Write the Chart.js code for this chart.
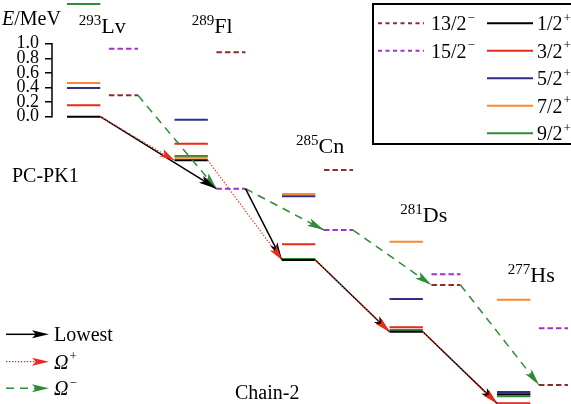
<!DOCTYPE html>
<html>
<head>
<meta charset="utf-8">
<script src="https://cdn.jsdelivr.net/npm/chart.js@4.4.1/dist/chart.umd.min.js"></script>
<style>
  html, body { margin: 0; padding: 0; background: #fff; }
  #wrap { width: 571px; height: 404px; position: relative; overflow: hidden; }
</style>
</head>
<body>
<div id="wrap"><canvas id="levels-chart"></canvas></div>
<script>
// decay chain, left to right
const nuclei = ['Lv', 'Fl', 'Cn', 'Ds', 'Hs'];
const massNumbers = [293, 289, 285, 281, 277];

// states shown in the diagram
const spins = ['1/2', '3/2', '5/2', '7/2', '9/2', '13/2', '15/2'];
const parities = ['+', '+', '+', '+', '+', '-', '-'];

// level energies (MeV) on the common chain scale, one value per nucleus
const level1_2p = [0.000, -0.597, -1.963, -2.945, -3.803];
const level3_2p = [0.156, -0.370, -1.748, -2.885, -3.926];
const level5_2p = [0.393, -0.041, -1.090, -2.497, -3.771];
const level7_2p = [0.462, -0.562, -1.059, -1.712, -2.507];
const level9_2p = [1.544, -0.538, -1.949, -2.922, -3.830];
const level13_2m = [0.293, 0.882, -0.730, -2.305, -3.675];
const level15_2m = [0.932, -0.986, -1.552, -2.159, -2.899];

const yTicks = [0.0, 0.2, 0.4, 0.6, 0.8, 1.0];

const levels = [level1_2p, level3_2p, level5_2p, level7_2p, level9_2p, level13_2m, level15_2m];
const colors = ['#000000', '#e8291c', '#2f2f8a', '#f7892f', '#2e8b37', '#8b2e2e', '#a030d0'];

const FONT = "'Liberation Serif', 'Times New Roman', serif";
const SOLID_W = 0.31, DASH_X0 = 0.39, DASH_X1 = 0.66;

function levelSpan(k, i) {
  return parities[k] === '+' ? [i, i + SOLID_W] : [i + DASH_X0, i + DASH_X1];
}

// lowest allowed state in every nucleus
function lowestPath(allow) {
  return nuclei.map((n, i) => {
    let best = -1;
    levels.forEach((lv, k) => {
      if (allow(k) && (best < 0 || lv[i] < levels[best][i])) best = k;
    });
    return best;
  });
}

const levelSets = levels.map((lv, k) => {
  const data = [];
  lv.forEach((e, i) => {
    const [a, b] = levelSpan(k, i);
    data.push({x: a, y: e}, {x: b, y: e}, {x: b, y: null});
  });
  return {
    label: spins[k] + parities[k],
    data: data,
    borderColor: colors[k],
    borderWidth: 2,
    borderDash: parities[k] === '-' ? [5.5, 3] : [],
    pointRadius: 0,
    spanGaps: false,
    clip: false,
    order: 10
  };
});

const paths = [
  {path: lowestPath(() => true), color: '#000000', dash: [], width: 1.5, order: 2, head: 18},
  {path: lowestPath(k => parities[k] === '+'), color: '#f0281c', dash: [1.3, 1.7], width: 1.2, order: 1, head: 15},
  {path: lowestPath(k => parities[k] === '-'), color: '#2e8b37', dash: [8, 6], width: 1.5, order: 3, head: 17}
];

const arrowSets = [];
paths.forEach(p => {
  for (let i = 0; i < nuclei.length - 1; i++) {
    const from = p.path[i], to = p.path[i + 1];
    arrowSets.push({
      label: 'arrow',
      data: [
        {x: levelSpan(from, i)[1], y: levels[from][i]},
        {x: levelSpan(to, i + 1)[0], y: levels[to][i + 1]}
      ],
      borderColor: p.color,
      borderWidth: p.width,
      borderDash: p.dash,
      pointRadius: 0,
      clip: false,
      order: p.order,
      arrowHead: p.head
    });
  }
});

function drawHead(ctx, x0, y0, x1, y1, color, len) {
  const a = Math.atan2(y1 - y0, x1 - x0);
  ctx.save();
  ctx.translate(x1, y1);
  ctx.rotate(a);
  ctx.beginPath();
  ctx.moveTo(0, 0);
  ctx.lineTo(-len, -4);
  ctx.lineTo(-len * 0.78, 0);
  ctx.lineTo(-len, 4);
  ctx.closePath();
  ctx.fillStyle = color;
  ctx.fill();
  ctx.restore();
}

// text followed by a raised small sign, e.g. 13/2 with a minus
function textSup(ctx, x, y, main, sup, size, italic) {
  ctx.font = (italic ? 'italic ' : '') + size + 'px ' + FONT;
  ctx.fillText(main, x, y);
  const w = ctx.measureText(main).width;
  ctx.font = Math.round(size * 0.65) + 'px ' + FONT;
  ctx.fillText(sup, x + w + 1, y - size * 0.42);
}

const arrowHeads = {
  id: 'arrowHeads',
  afterDatasetsDraw(chart) {
    const ctx = chart.ctx;
    const sets = chart.data.datasets
      .map((ds, idx) => ({ds, idx}))
      .filter(o => o.ds.arrowHead)
      .sort((a, b) => b.ds.order - a.ds.order);
    sets.forEach(o => {
      const pts = chart.getDatasetMeta(o.idx).data;
      const p0 = pts[0], p1 = pts[pts.length - 1];
      drawHead(ctx, p0.x, p0.y, p1.x, p1.y, o.ds.borderColor, o.ds.arrowHead);
    });
  }
};

const decor = {
  id: 'decor',
  afterDraw(chart) {
    const ctx = chart.ctx, xs = chart.scales.x, ys = chart.scales.y;
    ctx.save();
    ctx.fillStyle = '#000';
    ctx.strokeStyle = '#000';

    // short energy axis, only over the tick range
    ctx.lineWidth = 1.5;
    ctx.beginPath();
    ctx.moveTo(ys.right, ys.getPixelForValue(yTicks[0]) + 0.75);
    ctx.lineTo(ys.right, ys.getPixelForValue(yTicks[yTicks.length - 1]) - 0.75);
    ctx.stroke();

    // axis title
    ctx.textBaseline = 'alphabetic';
    ctx.font = 'italic 20px ' + FONT;
    ctx.fillText('E', 2, 25);
    const ew = ctx.measureText('E').width;
    ctx.font = '20px ' + FONT;
    ctx.fillText('/MeV', 2 + ew, 25);

    // nucleus labels
    const labelX = [0.11, 1.16, 2.13, 3.10, 4.10];
    const labelY = [1.147, 1.147, -0.493, -1.438, -2.26];
    nuclei.forEach((n, i) => {
      const x = xs.getPixelForValue(labelX[i]);
      const y = ys.getPixelForValue(labelY[i]);
      ctx.font = '15px ' + FONT;
      const m = String(massNumbers[i]);
      ctx.fillText(m, x, y - 8);
      const mw = ctx.measureText(m).width;
      ctx.font = '22px ' + FONT;
      ctx.fillText(n, x + mw, y);
    });

    ctx.font = '20px ' + FONT;
    ctx.fillText('PC-PK1', 12, 182);
    ctx.fillText('Chain-2', 235, 399);

    // state legend box
    ctx.lineWidth = 2;
    ctx.strokeRect(373, 4, 210, 140);
    const rows = [23.3, 50.7, 78.3, 105.7, 133.3];
    const negs = [5, 6], poss = [0, 1, 2, 3, 4];
    const drawEntry = (k, r, x0, x1, tx) => {
      ctx.strokeStyle = colors[k];
      ctx.lineWidth = 2;
      ctx.setLineDash(parities[k] === '-' ? [4, 3.5] : []);
      ctx.beginPath();
      ctx.moveTo(x0, rows[r]);
      ctx.lineTo(x1, rows[r]);
      ctx.stroke();
      ctx.setLineDash([]);
      ctx.fillStyle = '#000';
      textSup(ctx, tx, rows[r] + 7, spins[k], parities[k] === '-' ? '\u2212' : '+', 20, false);
    };
    negs.forEach((k, r) => drawEntry(k, r, 378, 424, 431));
    poss.forEach((k, r) => drawEntry(k, r, 487, 533, 537));

    // arrow legend
    const arrowRows = [334.3, 361.7, 388.3];
    const arrowNames = ['Lowest', '\u03a9', '\u03a9'];
    const arrowSups = ['', '+', '\u2212'];
    paths.forEach((p, r) => {
      const y = arrowRows[r];
      ctx.strokeStyle = p.color;
      ctx.lineWidth = p.width;
      ctx.setLineDash(p.dash);
      ctx.beginPath();
      ctx.moveTo(6, y);
      ctx.lineTo(36, y);
      ctx.stroke();
      ctx.setLineDash([]);
      drawHead(ctx, 6, y, 49, y, p.color, 17);
      ctx.fillStyle = '#000';
      if (r === 0) {
        ctx.font = '20px ' + FONT;
        ctx.fillText(arrowNames[r], 54, y + 7);
      } else {
        textSup(ctx, 54, y + 7, arrowNames[r], arrowSups[r], 20, true);
      }
    });
    ctx.restore();
  }
};

const chartInit = () => {
  new Chart(document.getElementById('levels-chart').getContext('2d'), {
    type: 'line',
    data: { datasets: levelSets.concat(arrowSets) },
    options: {
      responsive: true,
      maintainAspectRatio: false,
      animation: false,
      events: [],
      layout: { padding: 0 },
      plugins: {
        legend: { display: false },
        tooltip: { enabled: false }
      },
      scales: {
        x: {
          type: 'linear',
          display: false,
          min: -0.1395,
          max: 4.688
        },
        y: {
          type: 'linear',
          position: 'left',
          min: -3.935,
          max: 1.599,
          afterFit: (axis) => {
            axis.width = 52;
            axis.paddingTop = 0;
            axis.paddingBottom = 0;
          },
          afterBuildTicks: (axis) => { axis.ticks = yTicks.map(v => ({value: v})); },
          ticks: {
            autoSkip: false,
            color: '#000',
            padding: 6,
            font: { family: FONT, size: 18 },
            callback: (v) => Number(v).toFixed(1)
          },
          grid: {
            drawOnChartArea: false,
            drawTicks: true,
            tickLength: 7,
            color: '#000',
            lineWidth: 1.5
          },
          border: { display: false }
        }
      }
    },
    plugins: [arrowHeads, decor]
  });
};

document.fonts.load('20px "Liberation Serif"').then(chartInit, chartInit);
</script>
</body>
</html>
